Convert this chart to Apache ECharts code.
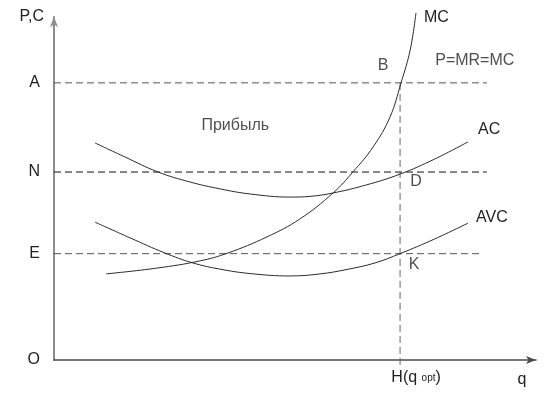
<!DOCTYPE html>
<html>
<head>
<meta charset="utf-8">
<script src="https://cdn.jsdelivr.net/npm/echarts@6/dist/echarts.min.js"></script>
<style>
  html, body { margin: 0; padding: 0; background: #fff; }
  #chart { width: 550px; height: 398px; }
</style>
</head>
<body>
<div id="chart"></div>
<script>
// уровни цены на оси P,C
const levelNames = ['O', 'E', 'N', 'A'];
const levelValues = [0, 3.1, 5.48, 8.08];
const qOpt = 7.18;

// кривые издержек (q, P)
const acQ = [0.85, 1.47, 2.16, 2.82, 3.44, 4.07, 4.90, 5.31, 5.79, 6.47, 7.18, 7.90, 8.59];
const acP = [6.33, 5.92, 5.48, 5.19, 4.99, 4.84, 4.75, 4.77, 4.87, 5.10, 5.42, 5.86, 6.36];

const avcQ = [0.85, 1.58, 2.30, 2.88, 3.44, 4.07, 4.90, 5.52, 6.08, 6.66, 7.18, 7.90, 8.59];
const avcP = [4.02, 3.56, 3.12, 2.83, 2.65, 2.52, 2.45, 2.51, 2.64, 2.83, 3.10, 3.53, 3.99];

const mcQ = [1.08, 2.14, 3.03, 3.61, 4.42, 5.10, 5.79, 6.20, 6.62, 6.97, 7.20, 7.39, 7.51];
const mcP = [2.51, 2.68, 2.89, 3.12, 3.59, 4.11, 4.87, 5.48, 6.21, 7.08, 8.08, 9.04, 10.12];

// подписи на поле графика
const noteText = ['Прибыль', 'B', 'P=MR=MC', 'D', 'K'];
const noteQ = [3.76, 6.83, 8.73, 7.51, 7.47];
const noteP = [6.82, 8.57, 8.72, 5.19, 2.77];

const dashEnd = [8.90, 8.98, 8.98]; // E, N, A

window.onload = init;

function pairs(xs, ys) {
    return xs.map((x, i) => [x, ys[i]]);
}

function curve(name, xs, ys, off) {
    return {
        name: name,
        type: 'line',
        data: pairs(xs, ys),
        smooth: 0.4,
        showSymbol: false,
        clip: false,
        lineStyle: { color: '#2a2a2a', width: 1 },
        endLabel: {
            show: true,
            formatter: name,
            color: '#222',
            fontSize: 16,
            fontFamily: 'Liberation Sans',
            offset: off
        },
        silent: true
    };
}

function dashed(points, color) {
    return {
        type: 'line',
        data: points,
        showSymbol: false,
        clip: false,
        lineStyle: { color: color, width: 1, type: [7, 4] },
        silent: true
    };
}

function init() {
    const chart = echarts.init(document.getElementById('chart'));
    const font = { color: '#222', fontSize: 16, fontFamily: 'Liberation Sans' };

    const series = [];
    // горизонтальные уровни E, N, A
    const levelColors = ['#555', '#111', '#555'];
    for (let i = 1; i < levelValues.length; i++) {
        series.push(dashed([[0, levelValues[i]], [dashEnd[i - 1], levelValues[i]]], levelColors[i - 1]));
    }
    // вертикаль q opt
    series.push(dashed([[qOpt, levelValues[3]], [qOpt, -0.25]], '#666'));

    series.push(curve('MC', mcQ, mcP, [0, 5]));
    series.push(curve('AC', acQ, acP, [2, -12]));
    series.push(curve('AVC', avcQ, avcP, [0, -6]));

    series.push({
        type: 'scatter',
        data: noteText.map((t, i) => ({ name: t, value: [noteQ[i], noteP[i]] })),
        symbolSize: 0,
        clip: false,
        label: Object.assign({ show: true, position: 'inside', formatter: '{b}' }, font),
        silent: true
    });

    chart.setOption({
        animation: false,
        grid: { left: 54, right: 14, top: 17, bottom: 38, containLabel: false, outerBoundsMode: 'none' },
        xAxis: {
            type: 'value',
            min: 0,
            max: 10,
            name: 'q',
            nameLocation: 'end',
            nameGap: -14,
            nameTextStyle: Object.assign({ align: 'center', verticalAlign: 'top', padding: [12, 0, 0, 0] }, font),
            axisLine: {
                lineStyle: { color: '#4a4a4a', width: 1.5 },
                symbol: ['none', 'arrow'],
                symbolSize: [6, 10]
            },
            axisTick: { show: false },
            splitLine: { show: false },
            axisLabel: {
                customValues: [qOpt],
                margin: 10,
                formatter: () => '{s|}{a|H(q }{b|opt}{a|)}',
                rich: {
                    s: { width: 32 },
                    a: font,
                    b: { color: '#222', fontSize: 10, fontFamily: 'Liberation Sans' }
                }
            }
        },
        yAxis: {
            type: 'value',
            min: 0,
            max: 10,
            name: 'P,C',
            nameLocation: 'end',
            nameGap: 0,
            nameTextStyle: Object.assign({ align: 'right', verticalAlign: 'middle', padding: [0, 10, 0, 0] }, font),
            axisLine: {
                lineStyle: { color: '#8c8c8c', width: 2 },
                symbol: ['none', 'arrow'],
                symbolSize: [6, 10]
            },
            axisTick: { show: false },
            splitLine: { show: false },
            axisLabel: Object.assign({
                customValues: levelValues,
                margin: 14,
                formatter: v => levelNames[levelValues.indexOf(v)]
            }, font)
        },
        series: series
    });
}
</script>
</body>
</html>
